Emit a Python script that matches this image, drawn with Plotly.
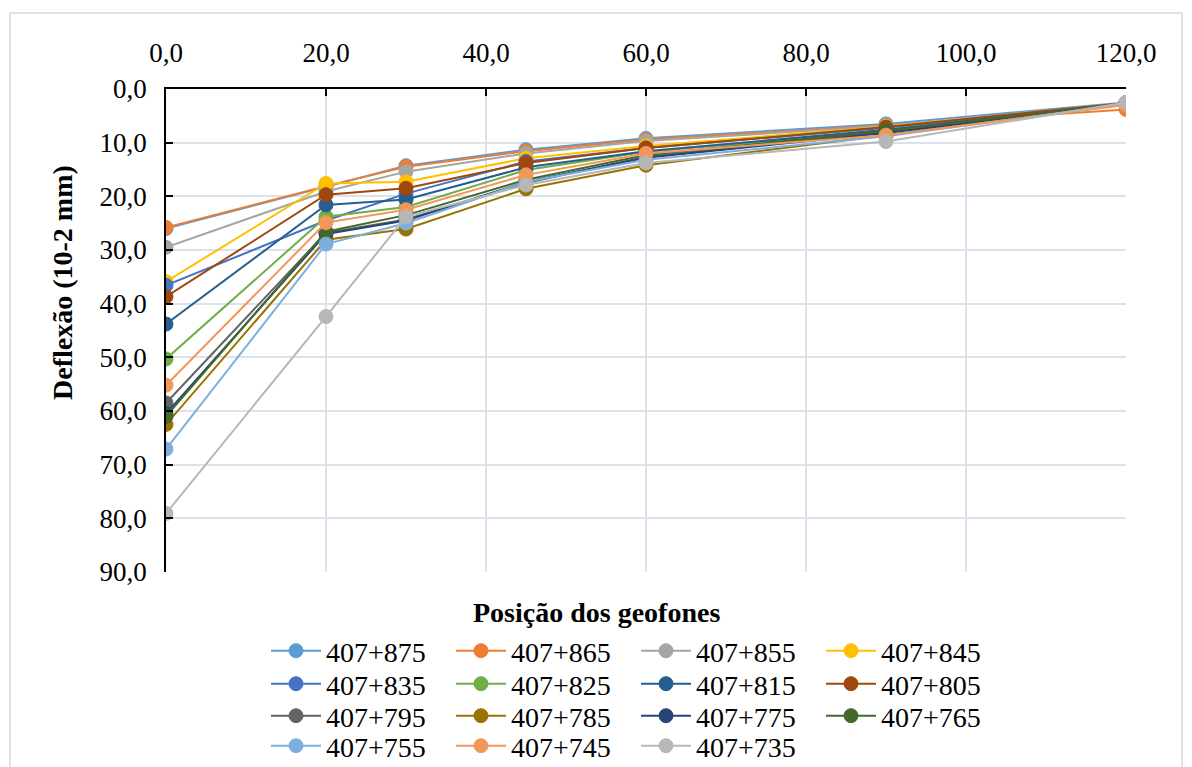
import plotly.graph_objects as go

positions = [0, 20, 30, 45, 60, 90, 120]

names = ["407+875", "407+865", "407+855", "407+845", "407+835", "407+825", "407+815",
         "407+805", "407+795", "407+785", "407+775", "407+765", "407+755", "407+745", "407+735"]

d875 = [26.0, 18.2, 14.3, 11.3, 9.2, 6.5, 2.5]
d865 = [25.8, 18.1, 14.5, 11.6, 9.4, 6.8, 3.8]
d855 = [29.5, 19.1, 15.4, 12.0, 9.7, 6.9, 2.6]
d845 = [35.9, 17.6, 17.3, 12.9, 10.6, 7.0, 2.7]
d835 = [36.6, 24.5, 19.5, 13.5, 11.0, 7.2, 2.6]
d825 = [50.3, 23.8, 22.0, 15.1, 11.7, 7.9, 2.8]
d815 = [43.8, 21.6, 20.6, 14.6, 11.6, 7.6, 2.7]
d805 = [38.7, 19.7, 18.5, 13.8, 11.0, 7.1, 2.6]
d795 = [58.5, 26.8, 24.3, 17.5, 12.6, 8.0, 2.7]
d785 = [62.5, 28.1, 26.1, 18.6, 14.2, 8.6, 2.6]
d775 = [60.5, 27.0, 24.5, 17.3, 12.8, 8.2, 2.7]
d765 = [61.0, 26.6, 23.5, 16.9, 12.3, 7.8, 2.7]
d755 = [67.1, 28.9, 25.0, 17.3, 13.2, 8.8, 2.8]
d745 = [55.2, 24.9, 22.5, 16.0, 12.0, 8.6, 3.0]
d735 = [79.1, 42.4, 23.8, 17.9, 13.8, 9.8, 2.5]

series = [d875, d865, d855, d845, d835, d825, d815, d805, d795, d785, d775, d765, d755, d745, d735]

colors = ["#5B9BD5", "#ED7D31", "#A5A5A5", "#FFC000", "#4472C4", "#70AD47", "#255E91",
          "#9E480E", "#636363", "#997300", "#264478", "#43682B", "#7CAFDD", "#F1975A", "#B7B7B7"]

y_ticks = [0, 10, 20, 30, 40, 50, 60, 70, 80, 90]
x_ticks = [0, 20, 40, 60, 80, 100, 120]

FONT = "Liberation Serif"
N_COLS = 4

def legend_key(r):
    return "legend" if r == 0 else f"legend{r + 1}"

fig = go.Figure()
for i, (name, vals, col) in enumerate(zip(names, series, colors)):
    r = i // N_COLS
    fig.add_trace(go.Scatter(
        x=positions, y=vals, name=name, mode="lines+markers",
        line=dict(color=col, width=2),
        marker=dict(color=col, size=14, line=dict(color=col, width=1)),
        legend=legend_key(r),
    ))

L, R, T, B = 166, 66, 89, 195
W, H = 1192, 767
pw, ph = W - L - R, H - T - B

def px_x(p):
    return (p - L) / pw

def px_y(p):
    return (H - B - p) / ph

n_rows = (len(names) + N_COLS - 1) // N_COLS
row_centers = [652, 685, 717, 747]

def legend_cfg(center):
    return dict(
        orientation="h", x=px_x(266), y=px_y(center - 26), xanchor="left", yanchor="top",
        entrywidth=120, entrywidthmode="pixels", itemwidth=50,
        font=dict(family=FONT, size=28, color="black"),
        tracegroupgap=0, bgcolor="rgba(0,0,0,0)",
    )

layout_legends = {legend_key(r): legend_cfg(row_centers[r]) for r in range(n_rows)}

fig.update_layout(
    width=W, height=H,
    margin=dict(l=L, r=R, t=T, b=B, autoexpand=False),
    paper_bgcolor="white", plot_bgcolor="white",
    separators=",.",
    font=dict(family=FONT, size=26, color="black"),
    showlegend=True,
    xaxis=dict(
        side="top", range=[0, 120], tickvals=x_ticks, tickformat=".1f",
        showgrid=True, gridcolor="#DCE2EA", gridwidth=1.5,
        showline=True, linecolor="black", linewidth=1.5,
        ticks="inside", ticklen=7, tickcolor="black", tickwidth=1.5,
        zeroline=False, tickfont=dict(family=FONT, size=27),
        ticklabelstandoff=14,
    ),
    yaxis=dict(
        range=[90, 0], tickvals=y_ticks, tickformat=".1f",
        showgrid=True, gridcolor="#DCE2EA", gridwidth=1.5,
        showline=True, linecolor="black", linewidth=1.5,
        ticks="inside", ticklen=7, tickcolor="black", tickwidth=1.5,
        zeroline=False, tickfont=dict(family=FONT, size=27),
        ticklabelstandoff=12,
    ),
    shapes=[dict(type="rect", xref="paper", yref="paper",
                 x0=px_x(10), x1=px_x(1182), y0=px_y(770), y1=px_y(13),
                 line=dict(color="#D9D9D9", width=1.5), fillcolor="rgba(0,0,0,0)", layer="below")],
    annotations=[
        dict(text="<b>Posição dos geofones</b>", xref="paper", yref="paper",
             x=px_x(596), y=px_y(612), xanchor="center", yanchor="middle",
             showarrow=False, font=dict(family=FONT, size=28, color="black")),
        dict(text="<b>Deflexão (10-2 mm)</b>", xref="paper", yref="paper",
             x=px_x(62), y=px_y(283), xanchor="center", yanchor="middle", textangle=-90,
             showarrow=False, font=dict(family=FONT, size=28, color="black")),
    ],
    **layout_legends,
)

fig.write_html("out.html")
